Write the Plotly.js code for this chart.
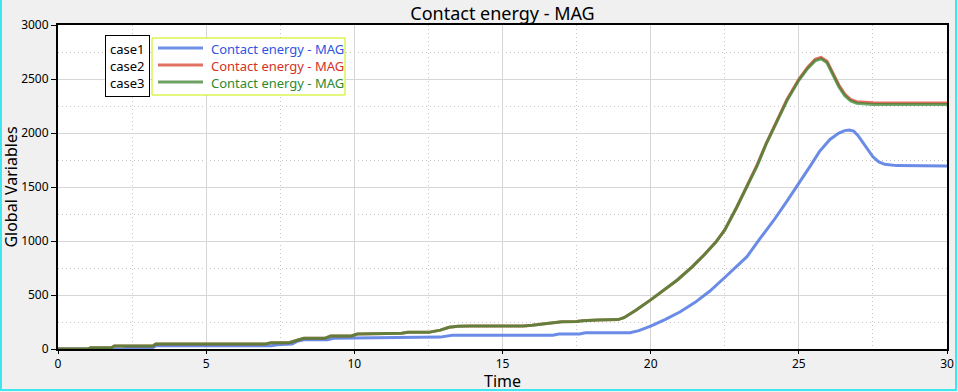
<!DOCTYPE html>
<html>
<head>
<meta charset="utf-8">
<script src="https://cdn.plot.ly/plotly-3.0.1.min.js"></script>
<style>
  html, body { margin: 0; padding: 0; background: #f0f0f0; }
  #wrap { position: relative; width: 958px; height: 392px; overflow: hidden; }
  #chart { width: 958px; height: 392px; }
  #frame { position: absolute; left: 0px; top: -4px; width: 957px; height: 395px;
           border: 2px solid #3ee6f0; border-top: none; box-sizing: border-box; pointer-events: none; }
</style>
</head>
<body>
<div id="wrap"><div id="chart"></div><div id="frame"></div></div>
<script>
// ---- data ----
const caseLabels = ["case1", "case2", "case3"];
const seriesName = "Contact energy - MAG";

const time1 = [0, 2.2, 2.3, 3.2, 3.3, 7.2, 7.4, 7.9, 8.1, 8.3, 9.1, 9.3, 10.0, 12.5, 12.9, 13.3, 16.7, 16.9, 17.6, 17.8, 19.3, 19.6, 20.0, 20.5, 21.0, 21.5, 22.0, 22.5, 23.0, 23.25, 23.7, 24.15, 24.6, 25.05, 25.4, 25.7, 26.05, 26.35, 26.55, 26.7, 26.85, 27.0, 27.2, 27.5, 27.7, 27.9, 28.3, 29, 30];
const case1 = [0, 0, 12, 12, 31, 31, 40, 46, 74, 86, 86, 100, 102, 104, 110, 128, 128, 139, 139, 151, 151, 170, 212, 275, 345, 432, 537, 662, 790, 855, 1026, 1190, 1370, 1550, 1700, 1830, 1940, 2000, 2022, 2028, 2018, 1975, 1900, 1780, 1732, 1710, 1698, 1694, 1694];

const time23 = [0, 1.0, 1.1, 1.8, 1.9, 3.2, 3.3, 7.0, 7.2, 7.8, 8.1, 8.3, 9.0, 9.2, 9.9, 10.1, 11.6, 11.8, 12.5, 12.9, 13.2, 13.5, 13.9, 15.7, 16.0, 16.5, 17.0, 17.5, 17.7, 18.2, 18.9, 19.1, 19.5, 20.0, 20.5, 20.9, 21.4, 21.8, 22.2, 22.5, 22.9, 23.25, 23.6, 23.9, 24.3, 24.6, 25.0, 25.3, 25.55, 25.75, 25.95, 26.15, 26.35, 26.55, 26.75, 26.95, 27.2, 27.5, 28, 29, 30];
const case2 = [0, 0, 12, 12, 28, 28, 46, 46, 59, 59, 83, 99, 99, 120, 120, 139, 145, 154, 154, 175, 201, 210, 213, 213, 220, 238, 252, 255, 262, 268, 272, 290, 358, 455, 555, 639, 760, 870, 990, 1102, 1310, 1503, 1710, 1904, 2140, 2310, 2498, 2610, 2682, 2700, 2665, 2560, 2445, 2360, 2310, 2290, 2282, 2279, 2278, 2277, 2277];
const case3 = [0, 0, 12, 12, 28, 28, 46, 46, 59, 59, 83, 99, 99, 120, 120, 139, 145, 154, 154, 175, 201, 210, 213, 213, 220, 238, 252, 255, 262, 268, 272, 290, 358, 455, 555, 639, 760, 870, 990, 1102, 1310, 1503, 1700, 1900, 2134, 2300, 2488, 2598, 2668, 2687, 2650, 2542, 2428, 2345, 2296, 2276, 2268, 2265, 2264, 2263, 2263];

const legendTextColors = ["#2f55e0", "#d4321f", "#2e8a2e"];
const legendLineColors = ["#6e91e6", "#e07262", "#6ea264"];
const lineColors = ["rgba(75,115,225,0.82)", "rgba(222,70,55,0.8)", "rgba(45,135,45,0.7)"];

const traces = [
  { x: time1, y: case1, mode: "lines", name: caseLabels[0], line: { color: lineColors[0], width: 3 } },
  { x: time23, y: case2, mode: "lines", name: caseLabels[1], line: { color: lineColors[1], width: 3 } },
  { x: time23, y: case3, mode: "lines", name: caseLabels[2], line: { color: lineColors[2], width: 3 } }
];

// legend box built from shapes + annotation (pixel -> paper helpers)
const PL = 58, PW = 889, PB = 349, PH = 324;
const px = v => (v - PL) / PW;
const py = v => (PB - v) / PH;
const rowY = [48, 65, 82];

const shapes = [
  { type: "rect", xref: "paper", yref: "paper", x0: px(152), x1: px(345), y0: py(95), y1: py(38),
    line: { color: "#c8f000", width: 1 }, fillcolor: "#ffffff", layer: "above" }
];
rowY.forEach((r, i) => shapes.push({
  type: "line", xref: "paper", yref: "paper", x0: px(158), x1: px(203), y0: py(r), y1: py(r),
  line: { color: legendLineColors[i], width: 3 }, layer: "above"
}));

const legendText = legendTextColors.map(c => '<span style="color:' + c + '">' + seriesName + '</span>').join("<br>");

const layout = {
  width: 958, height: 392,
  paper_bgcolor: "#f0f0f0",
  plot_bgcolor: "#ffffff",
  margin: { l: 58, r: 11, t: 25, b: 43 },
  font: { family: "Noto Sans, Open Sans, sans-serif", color: "#000", size: 12 },
  title: { text: "Contact energy - MAG", font: { size: 18, color: "#000" }, xref: "paper", x: 0.5, xanchor: "center", yref: "container", y: 0.966, yanchor: "middle" },
  xaxis: {
    range: [0, 30], dtick: 5, tick0: 0,
    showline: true, linecolor: "#000", linewidth: 2, mirror: true,
    showgrid: true, gridcolor: "#d6d6d6", gridwidth: 1,
    zeroline: false,
    ticks: "outside", ticklen: 3, tickcolor: "#000",
    tickfont: { size: 12 },
    minor: { dtick: 2.5, showgrid: true, gridcolor: "#c4c4c4", griddash: "1px,3px", gridwidth: 1 },
    title: { text: "Time", font: { size: 16 }, standoff: 3 }
  },
  yaxis: {
    range: [0, 3000], dtick: 500, tick0: 0,
    showline: true, linecolor: "#000", linewidth: 2, mirror: true,
    showgrid: true, gridcolor: "#d6d6d6", gridwidth: 1,
    zeroline: false,
    ticks: "outside", ticklen: 5, tickcolor: "#000",
    tickfont: { size: 12 },
    minor: { dtick: 250, showgrid: true, gridcolor: "#c4c4c4", griddash: "1px,3px", gridwidth: 1 },
    title: { text: "Global Variables", font: { size: 16 }, standoff: 3 }
  },
  showlegend: false,
  shapes: shapes,
  annotations: [
    {
      xref: "paper", yref: "paper", x: px(105), y: 0.97, xanchor: "left", yanchor: "top",
      text: caseLabels.join("<br>"), align: "right", showarrow: false,
      font: { size: 13, color: "#000" },
      bordercolor: "#000", borderwidth: 1, borderpad: 4, bgcolor: "#ffffff"
    },
    {
      xref: "paper", yref: "paper", x: px(206), y: 0.97, xanchor: "left", yanchor: "top",
      text: legendText, align: "left", showarrow: false,
      font: { size: 13 }, borderwidth: 1, bordercolor: "rgba(0,0,0,0)", borderpad: 4
    }
  ]
};

Plotly.newPlot("chart", traces, layout, { displayModeBar: false, staticPlot: true });
</script>
</body>
</html>
